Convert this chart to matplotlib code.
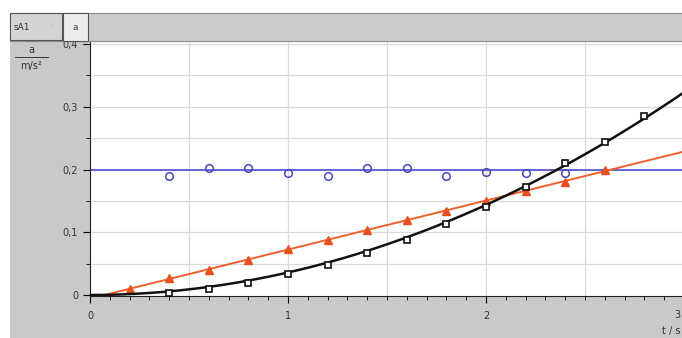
import numpy as np
import matplotlib.pyplot as plt
from matplotlib.patches import Rectangle
from matplotlib.lines import Line2D
from matplotlib.ticker import MultipleLocator, FuncFormatter

# data
t_circ = [0.4, 0.6, 0.8, 1.0, 1.2, 1.4, 1.6, 1.8, 2.0, 2.2, 2.4]
a_circ = [0.190, 0.202, 0.202, 0.195, 0.190, 0.202, 0.202, 0.190, 0.196, 0.195, 0.195]
a_const = 0.199

t_tri = [0.2, 0.4, 0.6, 0.8, 1.0, 1.2, 1.4, 1.6, 1.8, 2.0, 2.2, 2.4, 2.6]
v_tri = [0.010, 0.027, 0.040, 0.056, 0.073, 0.088, 0.104, 0.120, 0.134, 0.150, 0.166, 0.180, 0.200]

t_sq = [0.4, 0.6, 0.8, 1.0, 1.2, 1.4, 1.6, 1.8, 2.0, 2.2, 2.4, 2.6, 2.8]
s_sq = [0.003, 0.010, 0.019, 0.033, 0.048, 0.067, 0.088, 0.113, 0.140, 0.172, 0.210, 0.244, 0.286]

gray = '#c9c9c9'
fig = plt.figure(figsize=(6.82, 3.38), dpi=100, facecolor=gray)

# white margins at top and left
fig.patches.append(Rectangle((0, 1 - 13/338), 1, 13/338, transform=fig.transFigure,
                             facecolor='white', edgecolor='none', zorder=0))
fig.patches.append(Rectangle((0, 0), 10/682, 1, transform=fig.transFigure,
                             facecolor='white', edgecolor='none', zorder=0))
# tab bar
fig.patches.append(Rectangle((10/682, 1 - 41/338), 1, 28/338, transform=fig.transFigure,
                             facecolor='#cbcbcb', edgecolor='#8a8a8a', lw=0.8, zorder=1))
fig.patches.append(Rectangle((10/682, 1 - 40/338), 52/682, 27/338, transform=fig.transFigure,
                             facecolor='#d4d4d4', edgecolor='#555555', lw=0.8, zorder=2))
fig.patches.append(Rectangle((63/682, 1 - 41/338), 25/682, 28/338, transform=fig.transFigure,
                             facecolor='#ececec', edgecolor='#555555', lw=0.8, zorder=2))
fig.text(14/682, 1 - 27/338, 'sA1', fontsize=6.5, color='#333333', va='center')
fig.text(51/682, 1 - 27/338, '·', fontsize=6.5, color='#777777', va='center')
fig.text(75/682, 1 - 27/338, 'a', fontsize=6.5, color='#444444', va='center', ha='center')

# y axis label
fig.text(31/682, 1 - 50/338, 'a', fontsize=7, color='#333333', ha='center', va='center')
fig.lines.append(Line2D([15/682, 48/682], [1 - 57/338, 1 - 57/338], transform=fig.transFigure,
                        color='#333333', lw=0.7))
fig.text(31/682, 1 - 66/338, 'm/s²', fontsize=7, color='#333333', ha='center', va='center')

ax = fig.add_axes([90/682, 1 - 296/338, 592/682, 255/338])
ax.set_facecolor('white')
ax.set_xlim(0, 2.99)
ax.set_ylim(-0.0016, 0.405)

ax.xaxis.set_major_locator(MultipleLocator(1))
ax.xaxis.set_minor_locator(MultipleLocator(0.1))
ax.yaxis.set_major_locator(MultipleLocator(0.1))
ax.yaxis.set_minor_locator(MultipleLocator(0.05))
ax.yaxis.set_major_formatter(FuncFormatter(lambda v, p: ('%g' % round(v, 2)).replace('.', ',')))
ax.tick_params(labelsize=7, labelcolor='#333333', direction='out', length=5, width=0.8)
ax.tick_params(which='minor', length=3, width=0.6)
ax.tick_params(axis='x', pad=6)

# grid
for gx in np.arange(0.5, 3.0, 0.5):
    ax.axvline(gx, color='#dadada', lw=0.9, zorder=0)
for gy in np.arange(0.05, 0.41, 0.05):
    ax.axhline(gy, color='#dadada', lw=0.9, zorder=0)

for side in ['top', 'right']:
    ax.spines[side].set_visible(False)
ax.spines['left'].set_color('#222222')
ax.spines['bottom'].set_color('#222222')

# constant acceleration
ax.axhline(a_const, color='#5a5ad0', lw=1.3, zorder=2)
ax.plot(t_circ, a_circ, 'o', ms=5.5, mfc='none', mec='#4a4ab8', mew=1.1, zorder=3)

# velocity: linear fit
t_tri_a = np.array(t_tri)
m, c = np.polyfit(t_tri_a, v_tri, 1)
x0 = max(-c / m, 0)
xl = np.array([x0, 3.0])
ax.plot(xl, m * xl + c, color='#f0602a', lw=1.4, zorder=2)
ax.plot(t_tri, v_tri, '^', ms=6, color='#e8501e', mec='#e8501e', zorder=3)

# distance: quadratic fit through origin
t_sq_a = np.array(t_sq)
k = np.sum(t_sq_a**2 * np.array(s_sq)) / np.sum(t_sq_a**4)
xq = np.linspace(0, 3.0, 200)
ax.plot(xq, k * xq**2, color='#111111', lw=1.8, zorder=4)
ax.plot(t_sq, s_sq, 's', ms=5, mfc='white', mec='#111111', mew=1.2, zorder=5)

# last x label sits on the figure edge
fig.text(680/682, 1 - 315/338, '3', fontsize=7, color='#333333', va='center', ha='right')
fig.text(680/682, 1 - 331/338, 't / s', fontsize=7, color='#333333', va='center', ha='right')

plt.savefig('out.png', dpi=100, facecolor=fig.get_facecolor())
